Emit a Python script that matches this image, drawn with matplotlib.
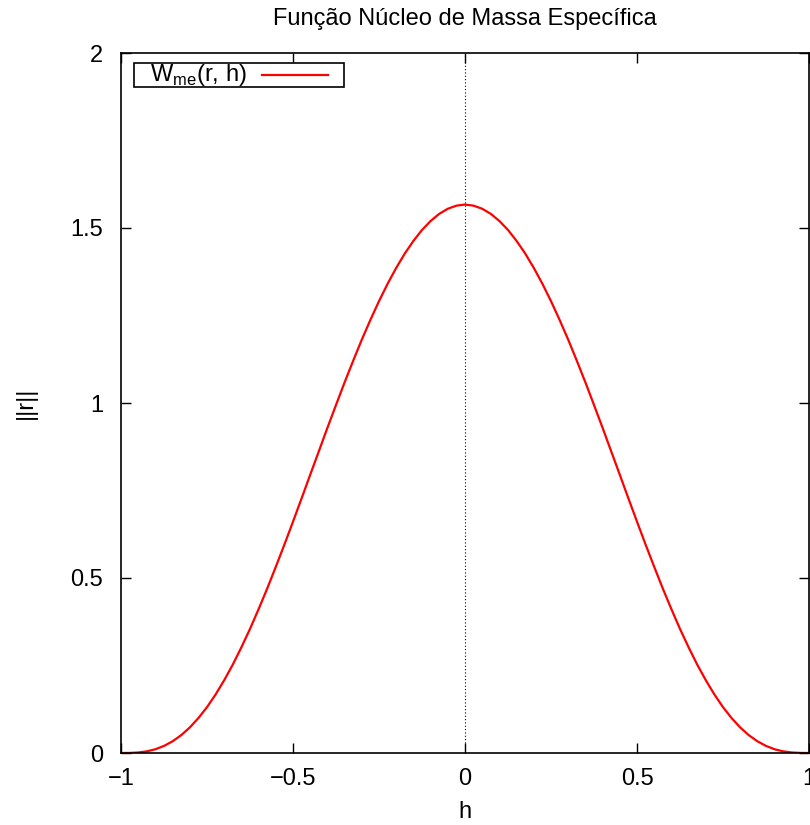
import matplotlib
matplotlib.use("Agg")
import matplotlib.pyplot as plt
from matplotlib.patches import Rectangle
from matplotlib.lines import Line2D

plt.rcParams['font.family'] = ['Liberation Sans', 'DejaVu Sans']
plt.rcParams['axes.unicode_minus'] = True

# values, step 0.025
r_vals = [-1.000, -0.975, -0.950, -0.925, -0.900, -0.875, -0.850, -0.825, -0.800, -0.775,
          -0.750, -0.725, -0.700, -0.675, -0.650, -0.625, -0.600, -0.575, -0.550, -0.525,
          -0.500, -0.475, -0.450, -0.425, -0.400, -0.375, -0.350, -0.325, -0.300, -0.275,
          -0.250, -0.225, -0.200, -0.175, -0.150, -0.125, -0.100, -0.075, -0.050, -0.025,
          0.000,
          0.025, 0.050, 0.075, 0.100, 0.125, 0.150, 0.175, 0.200, 0.225, 0.250,
          0.275, 0.300, 0.325, 0.350, 0.375, 0.400, 0.425, 0.450, 0.475, 0.500,
          0.525, 0.550, 0.575, 0.600, 0.625, 0.650, 0.675, 0.700, 0.725, 0.750,
          0.775, 0.800, 0.825, 0.850, 0.875, 0.900, 0.925, 0.950, 0.975, 1.000]
w_vals = [0.0, 0.0002, 0.0015, 0.0047, 0.0107, 0.0202, 0.0335, 0.0510, 0.073, 0.0998,
          0.131, 0.1672, 0.208, 0.2527, 0.302, 0.3545, 0.411, 0.4699, 0.532, 0.5955,
          0.661, 0.7275, 0.795, 0.8618, 0.929, 0.9943, 1.059, 1.1209, 1.181, 1.2375,
          1.291, 1.3406, 1.386, 1.4271, 1.463, 1.4944, 1.520, 1.5404, 1.555, 1.5638,
          1.567,
          1.5638, 1.555, 1.5404, 1.520, 1.4944, 1.463, 1.4271, 1.386, 1.3406, 1.291,
          1.2375, 1.181, 1.1209, 1.059, 0.9943, 0.929, 0.8618, 0.795, 0.7275, 0.661,
          0.5955, 0.532, 0.4699, 0.411, 0.3545, 0.302, 0.2527, 0.208, 0.1672, 0.131,
          0.0998, 0.073, 0.0510, 0.0335, 0.0202, 0.0107, 0.0047, 0.0015, 0.0002, 0.0]
x_ticks = [-1, -0.5, 0, 0.5, 1]
x_tick_labels = ['\u22121', '\u22120.5', '0', '0.5', '1']
y_ticks = [0, 0.5, 1, 1.5, 2]
y_tick_labels = ['0', '0.5', '1', '1.5', '2']
series_label = r'W$_{\mathregular{me}}$(r, h)'

W, H = 810, 825
FS = 17
AX_L, AX_T, AX_W, AX_H = 121, 53, 688, 700
fig = plt.figure(figsize=(W / 100, H / 100), dpi=100)
ax = fig.add_axes([AX_L / W, (H - AX_T - AX_H) / H, AX_W / W, AX_H / H])

ax.plot(r_vals, w_vals, color='red', lw=1.6, solid_capstyle='butt')
ax.axvline(0, color='black', lw=0.8, ls=(0, (1, 2)), zorder=0)

ax.set_xlim(-1, 1)
ax.set_ylim(0, 2)
ax.set_xticks(x_ticks)
ax.set_xticklabels(x_tick_labels)
ax.set_yticks(y_ticks)
ax.set_yticklabels(y_tick_labels)
ax.tick_params(direction='in', length=7, width=1, top=True, right=True,
               labelsize=FS)
ax.tick_params(axis='x', pad=11)
ax.tick_params(axis='y', pad=13)
for s in ax.spines.values():
    s.set_linewidth(1.2)

ax.set_title('Função Núcleo de Massa Específica', fontsize=FS, pad=20)
ax.set_xlabel('h', fontsize=FS, labelpad=8)
ax.set_ylabel('||r||', fontsize=FS, labelpad=24)


# gnuplot-style key: text first, sample line after, in a plain box
def px(x, y):
    return (x - AX_L) / AX_W, 1 - (y - AX_T) / AX_H


x0, y1 = px(134, 87)
x1, y0 = px(344, 63)
ax.add_patch(Rectangle((x0, y1), x1 - x0, y0 - y1, transform=ax.transAxes,
                       fill=True, facecolor='white', edgecolor='black', lw=1.2,
                       zorder=5))
tx, ty = px(150, 75)
ax.text(tx, ty, series_label, transform=ax.transAxes, fontsize=FS,
        ha='left', va='center', zorder=6)
lx0, ly = px(262, 75)
lx1, _ = px(328, 75)
ax.add_line(Line2D([lx0, lx1], [ly, ly], transform=ax.transAxes, color='red',
                   lw=1.6, zorder=6))

fig.savefig('out.png', dpi=100)
